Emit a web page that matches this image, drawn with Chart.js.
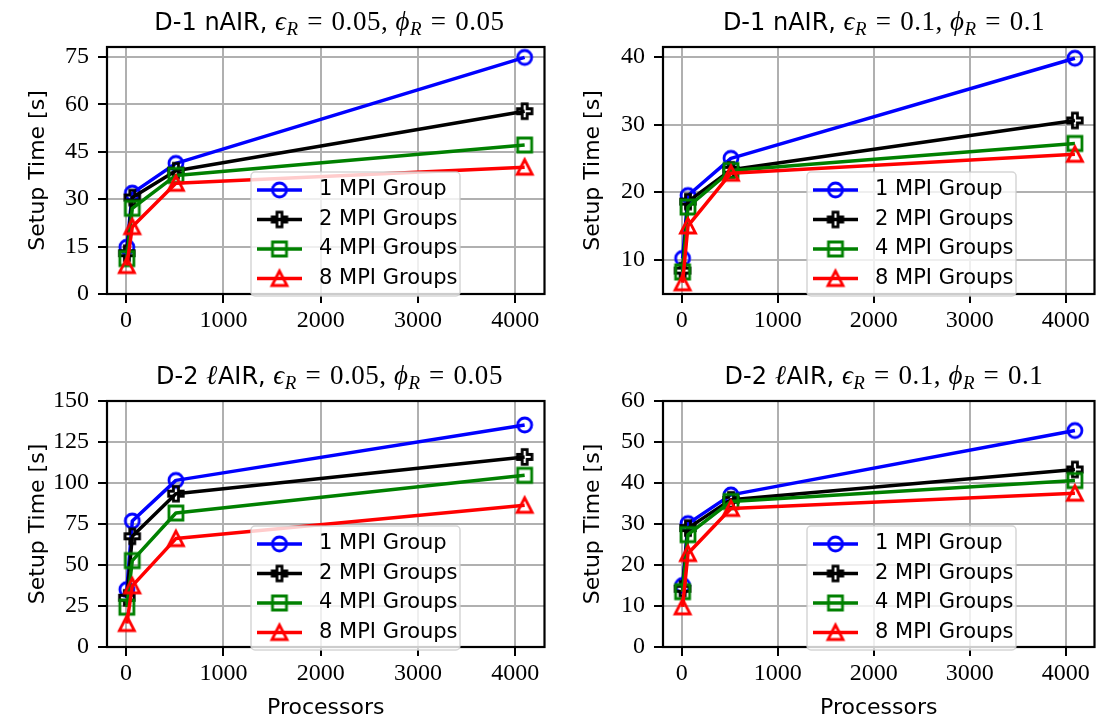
<!DOCTYPE html>
<html>
<head>
<meta charset="utf-8">
<script src="https://cdn.jsdelivr.net/npm/chart.js@4.4.1/dist/chart.umd.min.js"></script>
<style>
  body { margin: 0; background: #fff; }
  #fig { position: relative; width: 1106px; height: 721px; overflow: hidden; background: #fff; }
  #fig canvas { position: absolute; }
  .ttl { position: absolute; height: 40px; line-height: 40px; text-align: center; white-space: nowrap;
         font-family: 'DejaVu Sans', sans-serif; font-size: 24px; color: #000; }
  .m { font-family: 'Liberation Serif', 'DejaVu Serif', serif; font-size: 27px; letter-spacing: 0.02em; }
  .m sub { font-size: 70%; vertical-align: -0.28em; line-height: 0; }
  .eq { margin: 0 0.32em; }
</style>
</head>
<body>
<div id="fig"></div>
<script>
const procs = [8, 64, 512, 4096]
const groups = ['1 MPI Group', '2 MPI Groups', '4 MPI Groups', '8 MPI Groups']
const colors = ['#0000ff', '#000000', '#008000', '#ff0000']
const markerKinds = ['circle', 'plus', 'square', 'triangle']
const xTicks = [0, 1000, 2000, 3000, 4000]

// D-1 nAIR, eps = phi = 0.05
const d1Tight_g1 = [14.8, 31.9, 41.3, 74.8]
const d1Tight_g2 = [12.9, 30.5, 39.0, 57.8]
const d1Tight_g4 = [11.2, 27.1, 37.5, 47.1]
const d1Tight_g8 = [9.0, 21.3, 35.0, 40.1]
const d1TightTicks = [0, 15, 30, 45, 60, 75]

// D-1 nAIR, eps = phi = 0.1
const d1Loose_g1 = [10.2, 19.5, 25.0, 39.8]
const d1Loose_g2 = [8.4, 18.6, 23.3, 30.6]
const d1Loose_g4 = [8.2, 17.8, 23.2, 27.2]
const d1Loose_g8 = [6.6, 15.0, 22.8, 25.6]
const d1LooseTicks = [10, 20, 30, 40]

// D-2 lAIR, eps = phi = 0.05
const d2Tight_g1 = [35.0, 76.8, 101.6, 135.4]
const d2Tight_g2 = [30.0, 67.5, 93.5, 115.9]
const d2Tight_g4 = [24.3, 52.7, 81.7, 104.7]
const d2Tight_g8 = [14.3, 37.3, 66.1, 86.4]
const d2TightTicks = [0, 25, 50, 75, 100, 125, 150]

// D-2 lAIR, eps = phi = 0.1
const d2Loose_g1 = [15.0, 30.1, 37.1, 52.8]
const d2Loose_g2 = [14.2, 29.0, 35.9, 43.3]
const d2Loose_g4 = [13.5, 27.4, 35.5, 40.6]
const d2Loose_g8 = [9.8, 22.8, 33.8, 37.5]
const d2LooseTicks = [0, 10, 20, 30, 40, 50, 60]

const mathPart = v => '<span class="m"><i>ϵ</i><sub><i>R</i></sub><span class="eq">=</span>' + v +
  ', <i>ϕ</i><sub><i>R</i></sub><span class="eq">=</span>' + v + '</span>'
const titles = [
  'D-1 nAIR, ' + mathPart('0.05'),
  'D-1 nAIR, ' + mathPart('0.1'),
  'D-2 <span class="m"><i>ℓ</i></span>AIR, ' + mathPart('0.05'),
  'D-2 <span class="m"><i>ℓ</i></span>AIR, ' + mathPart('0.1'),
]

const serif = "'Liberation Serif', 'DejaVu Serif', serif"
const sans = "'DejaVu Sans', sans-serif"

// unfilled matplotlib-like markers
const markerImg = (kind, color) => {
  let c = document.createElement('canvas')
  c.width = 24
  c.height = 24
  let g = c.getContext('2d')
  g.strokeStyle = color
  g.lineWidth = 2.8
  g.beginPath()
  if (kind === 'circle') g.arc(12, 12, 7, 0, Math.PI * 2)
  if (kind === 'square') g.rect(5, 5, 14, 14)
  if (kind === 'triangle') { g.moveTo(12, 4.5); g.lineTo(4.5, 19); g.lineTo(19.5, 19); g.closePath() }
  if (kind === 'plus') {
    const a = 2.5, b = 7.3
    const pts = [[-a, -b], [a, -b], [a, -a], [b, -a], [b, a], [a, a], [a, b], [-a, b], [-a, a], [-b, a], [-b, -a], [-a, -a]]
    pts.forEach((p, i) => i ? g.lineTo(12 + p[0], 12 + p[1]) : g.moveTo(12 + p[0], 12 + p[1]))
    g.closePath()
  }
  g.stroke()
  return c
}
const markers = markerKinds.map((k, i) => markerImg(k, colors[i]))

const framePlugin = {
  id: 'frame',
  afterDatasetsDraw: chart => {
    const {ctx, chartArea: a} = chart
    ctx.save()
    ctx.strokeStyle = '#000'
    ctx.lineWidth = 2.2
    ctx.strokeRect(a.left, a.top, a.right - a.left, a.bottom - a.top)
    ctx.restore()
  }
}

const legendPlugin = {
  id: 'mplLegend',
  afterDraw: chart => {
    const {ctx, chartArea: a} = chart
    let x = a.left + 144, y = a.top + 125, w = 209, h = 124
    ctx.save()
    ctx.beginPath()
    ctx.roundRect(x, y, w, h, 4)
    ctx.fillStyle = 'rgba(255,255,255,0.8)'
    ctx.fill()
    ctx.strokeStyle = 'rgba(204,204,204,0.8)'
    ctx.lineWidth = 1.5
    ctx.stroke()
    chart.data.datasets.forEach((ds, i) => {
      let cy = y + 18 + i * 29.5
      ctx.beginPath()
      ctx.moveTo(x + 6, cy)
      ctx.lineTo(x + 51, cy)
      ctx.strokeStyle = ds.borderColor
      ctx.lineWidth = 3.5
      ctx.stroke()
      ctx.drawImage(ds.pointStyle, x + 28.5 - 12, cy - 12)
      ctx.fillStyle = '#000'
      ctx.font = '21px ' + sans
      ctx.textBaseline = 'middle'
      ctx.fillText(ds.label, x + 68, cy)
    })
    ctx.restore()
  }
}

const fig = document.getElementById('fig')

const makeChart = (box, series, yTicks, yMin, yMax, title, showX) => {
  let canvas = document.createElement('canvas')
  canvas.width = box.w
  canvas.height = box.h
  canvas.style.left = box.left + 'px'
  canvas.style.top = box.top + 'px'
  canvas.style.width = box.w + 'px'
  canvas.style.height = box.h + 'px'
  fig.appendChild(canvas)

  let t = document.createElement('div')
  t.className = 'ttl'
  t.innerHTML = title
  t.style.left = (box.left + box.yW) + 'px'
  t.style.width = (box.w - box.yW - box.padRight) + 'px'
  t.style.top = (box.top + box.padTop - 46.5) + 'px'
  fig.appendChild(t)

  new Chart(canvas, {
    type: 'line',
    data: {
      datasets: series.map((vals, i) => ({
        label: groups[i],
        data: procs.map((p, j) => ({x: p, y: vals[j]})),
        borderColor: colors[i],
        borderWidth: 3.5,
        borderJoinStyle: 'round',
        pointStyle: markers[i],
        pointRadius: 8,
        tension: 0,
        fill: false,
        clip: false,
        order: 3 - i,
      }))
    },
    options: {
      responsive: false,
      animation: false,
      events: [],
      layout: {padding: {top: box.padTop, right: box.padRight, left: 0, bottom: 0}},
      plugins: {legend: {display: false}, tooltip: {enabled: false}},
      scales: {
        x: {
          type: 'linear',
          min: -196,
          max: 4300,
          afterBuildTicks: s => { s.ticks = xTicks.map(v => ({value: v})) },
          afterFit: s => { s.height = box.xH },
          grid: {color: '#b0b0b0', lineWidth: 2, tickColor: '#000', tickWidth: 2, tickLength: 9},
          border: {display: false},
          ticks: {font: {family: serif, size: 24}, color: '#000', padding: 3, maxRotation: 0, autoSkip: false,
                  callback: v => String(v)},
          title: {display: showX, text: 'Processors', color: '#000', font: {family: sans, size: 22},
                  padding: {top: 0, bottom: 0}},
        },
        y: {
          type: 'linear',
          min: yMin,
          max: yMax,
          afterBuildTicks: s => { s.ticks = yTicks.map(v => ({value: v})) },
          afterFit: s => { s.width = box.yW },
          grid: {color: '#b0b0b0', lineWidth: 2, tickColor: '#000', tickWidth: 2, tickLength: 9},
          border: {display: false},
          ticks: {font: {family: serif, size: 24}, color: '#000', padding: 9, autoSkip: false,
                  callback: v => String(v)},
          title: {display: true, text: 'Setup Time [s]', color: '#000', font: {family: sans, size: 22},
                  padding: {top: 25, bottom: 0}},
        }
      }
    },
    plugins: [framePlugin, legendPlugin]
  })
}

makeChart({left: 0, top: 0, w: 556, h: 350, padTop: 47, padRight: 4, yW: 107, xH: 56},
  [d1Tight_g1, d1Tight_g2, d1Tight_g4, d1Tight_g8], d1TightTicks, 0, 78.1, titles[0], false)
makeChart({left: 555, top: 0, w: 551, h: 350, padTop: 47, padRight: 1, yW: 108, xH: 56},
  [d1Loose_g1, d1Loose_g2, d1Loose_g4, d1Loose_g8], d1LooseTicks, 4.94, 41.46, titles[1], false)
makeChart({left: 0, top: 350, w: 556, h: 371, padTop: 51, padRight: 4, yW: 107, xH: 74},
  [d2Tight_g1, d2Tight_g2, d2Tight_g4, d2Tight_g8], d2TightTicks, 0, 150, titles[2], true)
makeChart({left: 555, top: 350, w: 551, h: 371, padTop: 51, padRight: 1, yW: 108, xH: 74},
  [d2Loose_g1, d2Loose_g2, d2Loose_g4, d2Loose_g8], d2LooseTicks, 0, 60, titles[3], true)
</script>
</body>
</html>
